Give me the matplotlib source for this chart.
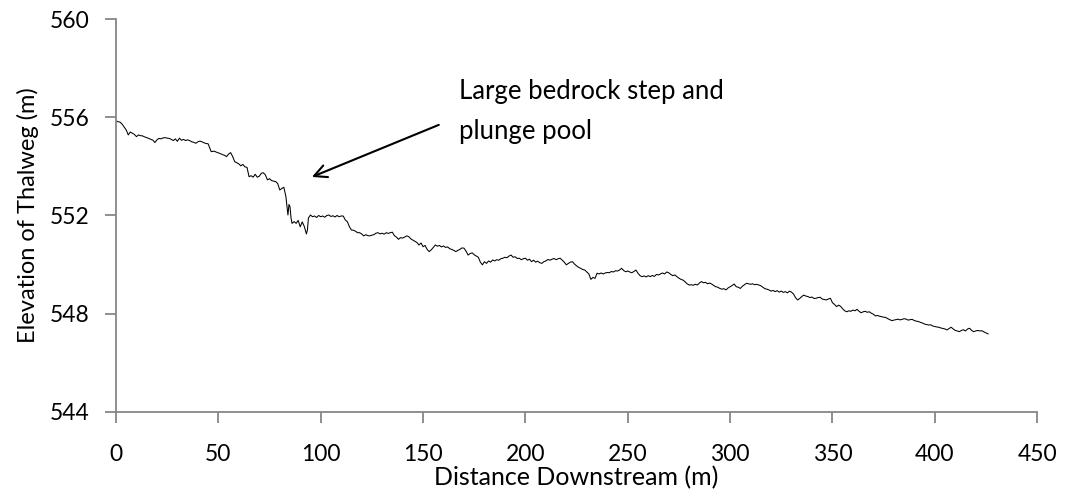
import matplotlib
matplotlib.use("Agg")
import matplotlib.pyplot as plt

distance = [0, 1, 2, 3, 4, 5, 6, 7, 8, 9, 10, 11, 12, 13, 14, 15, 16, 17, 18, 19,
            20, 21, 22, 23, 24, 25, 26, 27, 28, 29, 30, 31, 32, 33, 34, 35, 36, 37, 38, 39,
            40, 41, 42, 43, 44, 45, 46, 46.5, 48, 49, 50, 51, 52, 53, 54, 55, 56, 57, 58, 59,
            60, 61, 62, 63, 64, 65, 66, 67, 68, 69, 70, 71, 72, 73, 74, 75, 76, 77, 78, 79,
            80, 81, 82, 83, 83.5, 84, 84.5, 85, 85.5, 86, 87, 88, 89, 90, 91, 92, 93, 93.5, 94, 95,
            96, 97, 98, 99, 100, 101, 102, 103, 104, 105, 106, 107, 108, 109, 110, 111, 112, 113, 114, 115,
            116, 117, 118, 119, 120, 121, 122, 123, 124, 125, 126, 127, 128, 129, 130, 131, 132, 133, 134, 135,
            136, 137, 138, 139, 140, 141, 142, 143, 144, 145, 146, 147, 148, 149, 150, 151, 152, 153, 154, 155,
            156, 157, 158, 159, 160, 161, 162, 163, 164, 165, 166, 167, 168, 169, 170, 171, 172, 173, 174, 175,
            176, 177, 178, 179, 180, 181, 182, 183, 184, 185, 186, 187, 188, 189, 190, 191, 192, 193, 194, 195,
            196, 197, 198, 199, 200, 201, 202, 203, 204, 205, 206, 207, 208, 209, 210, 211, 212, 213, 214, 215,
            216, 217, 218, 219, 220, 221, 222, 223, 224, 225, 226, 227, 228, 229, 230, 231, 232, 233, 234, 235,
            236, 237, 238, 239, 240, 241, 242, 243, 244, 245, 246, 247, 248, 249, 250, 251, 252, 253, 254, 255,
            256, 257, 258, 259, 260, 261, 262, 263, 264, 265, 266, 267, 268, 269, 270, 271, 272, 273, 274, 275,
            276, 277, 278, 279, 280, 281, 282, 283, 284, 285, 286, 287, 288, 289, 290, 291, 292, 293, 294, 295,
            296, 297, 298, 299, 300, 301, 302, 303, 304, 305, 306, 307, 308, 309, 310, 311, 312, 313, 314, 315,
            316, 317, 318, 319, 320, 321, 322, 323, 324, 325, 326, 327, 328, 329, 330, 331, 332, 333, 334, 335,
            336, 337, 338, 339, 340, 341, 342, 343, 344, 345, 346, 347, 348, 349, 350, 351, 352, 353, 354, 355,
            356, 357, 358, 359, 360, 361, 362, 363, 364, 365, 366, 367, 368, 369, 370, 371, 372, 373, 374, 375,
            376, 377, 378, 379, 380, 381, 382, 383, 384, 385, 386, 387, 388, 389, 390, 391, 392, 393, 394, 395,
            396, 397, 398, 399, 400, 401, 402, 403, 404, 405, 406, 407, 408, 409, 410, 411, 412, 413, 414, 415,
            416, 417, 418, 419, 420, 421, 422, 423, 424, 425, 426]

elevation = [555.85, 555.82, 555.80, 555.72, 555.60, 555.48, 555.28, 555.40, 555.35, 555.30,
             555.21, 555.28, 555.25, 555.24, 555.20, 555.17, 555.14, 555.10, 555.07, 554.97,
             555.08, 555.14, 555.12, 555.16, 555.17, 555.15, 555.14, 555.10, 555.05, 555.12,
             555.02, 555.15, 555.06, 555.10, 555.05, 555.08, 555.05, 555.00, 554.98, 554.94,
             555.00, 555.03, 555.00, 554.96, 554.93, 554.92, 554.70, 554.60, 554.62, 554.58,
             554.55, 554.52, 554.48, 554.45, 554.40, 554.50, 554.56, 554.40, 554.19, 554.15,
             554.10, 554.02, 554.08, 553.98, 553.96, 553.58, 553.62, 553.56, 553.68, 553.56,
             553.60, 553.72, 553.74, 553.65, 553.45, 553.50, 553.42, 553.40, 553.38, 553.30,
             553.04, 553.10, 553.15, 552.77, 552.40, 552.02, 552.45, 552.36, 551.90, 551.68,
             551.75, 551.68, 551.80, 551.54, 551.74, 551.55, 551.25, 551.40, 551.90, 552.02,
             551.95, 551.98, 551.92, 552.00, 551.95, 551.98, 551.93, 552.00, 552.02, 551.96,
             551.99, 551.94, 552.00, 551.95, 551.98, 551.98, 551.82, 551.75, 551.55, 551.41,
             551.40, 551.36, 551.30, 551.30, 551.25, 551.17, 551.22, 551.18, 551.17, 551.20,
             551.22, 551.28, 551.30, 551.25, 551.28, 551.24, 551.30, 551.27, 551.30, 551.32,
             551.18, 551.12, 551.03, 551.10, 551.08, 551.12, 551.17, 551.14, 551.05, 551.00,
             550.95, 550.90, 550.80, 550.88, 550.73, 550.78, 550.62, 550.53, 550.60, 550.70,
             550.80, 550.75, 550.78, 550.72, 550.76, 550.70, 550.72, 550.65, 550.62, 550.58,
             550.53, 550.58, 550.62, 550.68, 550.67, 550.55, 550.39, 550.45, 550.48, 550.40,
             550.35, 550.30, 550.10, 549.99, 550.12, 550.05, 550.15, 550.10, 550.19, 550.15,
             550.20, 550.18, 550.24, 550.26, 550.30, 550.28, 550.35, 550.39, 550.30, 550.32,
             550.25, 550.26, 550.20, 550.24, 550.26, 550.18, 550.22, 550.12, 550.18, 550.10,
             550.14, 550.08, 550.05, 550.12, 550.15, 550.21, 550.18, 550.22, 550.25, 550.20,
             550.24, 550.26, 550.18, 550.10, 549.99, 550.05, 550.10, 550.12, 550.02, 549.95,
             549.89, 549.85, 549.80, 549.78, 549.70, 549.62, 549.40, 549.48, 549.44, 549.65,
             549.62, 549.66, 549.62, 549.66, 549.68, 549.67, 549.72, 549.70, 549.75, 549.74,
             549.78, 549.85, 549.76, 549.71, 549.74, 549.70, 549.67, 549.72, 549.78, 549.65,
             549.55, 549.51, 549.54, 549.50, 549.55, 549.51, 549.56, 549.52, 549.60, 549.58,
             549.62, 549.66, 549.62, 549.70, 549.67, 549.60, 549.55, 549.58, 549.51, 549.45,
             549.40, 549.37, 549.30, 549.22, 549.17, 549.18, 549.16, 549.20, 549.17, 549.25,
             549.31, 549.26, 549.28, 549.22, 549.25, 549.21, 549.15, 549.10, 549.08, 549.03,
             549.00, 549.02, 548.97, 549.05, 549.10, 549.15, 549.21, 549.10, 549.08, 549.03,
             549.12, 549.18, 549.24, 549.22, 549.20, 549.22, 549.18, 549.20, 549.17, 549.14,
             549.08, 549.02, 549.00, 548.97, 548.92, 548.95, 548.90, 548.94, 548.88, 548.92,
             548.87, 548.90, 548.85, 548.92, 548.88, 548.80, 548.65, 548.56, 548.62, 548.70,
             548.76, 548.72, 548.70, 548.66, 548.68, 548.62, 548.63, 548.66, 548.67, 548.60,
             548.58, 548.56, 548.60, 548.63, 548.45, 548.38, 548.29, 548.35, 548.30, 548.20,
             548.12, 548.08, 548.12, 548.10, 548.15, 548.12, 548.18, 548.10, 548.04, 548.08,
             548.10, 548.06, 548.08, 548.02, 547.98, 547.91, 547.93, 547.90, 547.88, 547.86,
             547.85, 547.80, 547.76, 547.72, 547.74, 547.76, 547.78, 547.75, 547.77, 547.80,
             547.78, 547.74, 547.76, 547.77, 547.72, 547.70, 547.68, 547.65, 547.62, 547.58,
             547.56, 547.54, 547.55, 547.50, 547.48, 547.46, 547.45, 547.42, 547.40, 547.38,
             547.34, 547.40, 547.45, 547.38, 547.32, 547.30, 547.27, 547.32, 547.35, 547.30,
             547.38, 547.41, 547.32, 547.27, 547.30, 547.32, 547.30, 547.31, 547.26, 547.22,
             547.18]

x_ticks = [0, 50, 100, 150, 200, 250, 300, 350, 400, 450]
y_ticks = [544, 548, 552, 556, 560]

annotation_text = "Large bedrock step and\nplunge pool"

FONT = "Lato"
AXIS_GRAY = "#868686"

fig = plt.figure(figsize=(10.77, 4.95), dpi=100)
ax = fig.add_axes([0.1077, 0.1677, 0.8553, 0.7939])

ax.plot(distance, elevation, color="black", linewidth=0.75)

ax.set_xlim(0, 450)
ax.set_ylim(544, 560)
ax.set_xticks(x_ticks)
ax.set_yticks(y_ticks)

for side in ["top", "right"]:
    ax.spines[side].set_visible(False)
for side in ["left", "bottom"]:
    ax.spines[side].set_color(AXIS_GRAY)
    ax.spines[side].set_linewidth(1.3)

ax.tick_params(axis="both", direction="out", length=8, width=1.3, color=AXIS_GRAY,
               labelsize=16.5, labelcolor="black")
ax.tick_params(axis="x", pad=15)
ax.tick_params(axis="y", pad=11)
for lab in ax.get_xticklabels() + ax.get_yticklabels():
    lab.set_fontfamily(FONT)

ax.set_xlabel("Distance Downstream (m)", fontsize=18, fontfamily=FONT, labelpad=1)
ax.set_ylabel("Elevation of Thalweg (m)", fontsize=17, fontfamily=FONT, labelpad=8)

ax.annotate("", xy=(95.7, 553.57), xytext=(157.7, 555.69),
            arrowprops=dict(arrowstyle="->,head_length=0.9,head_width=0.45",
                            color="black", linewidth=1.5, shrinkA=0, shrinkB=0))
ax.text(167.5, 556.22, annotation_text, fontsize=18.5, fontfamily=FONT,
        ha="left", va="center", linespacing=1.75, transform=ax.transData)

fig.savefig("out.png", dpi=100)
